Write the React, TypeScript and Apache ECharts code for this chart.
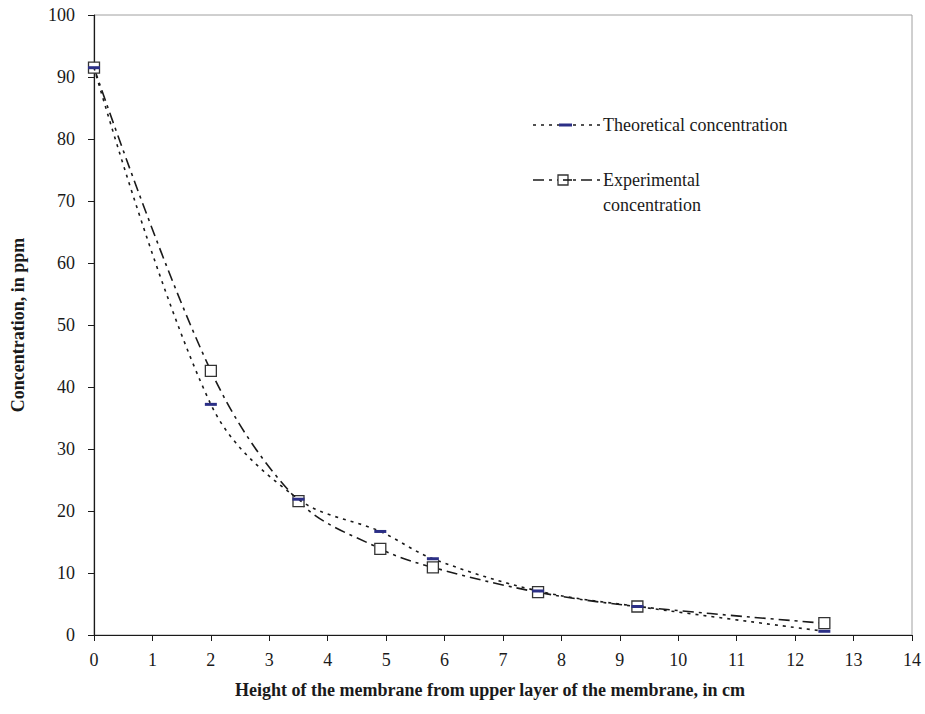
import React, { useEffect, useRef } from "react";
import * as echarts from "echarts";

const heights = [0, 2, 3.5, 4.9, 5.8, 7.6, 9.3, 12.5];
const theoretical = [91.5, 37.2, 21.9, 16.7, 12.3, 7.1, 4.6, 0.6];
const experimental = [91.5, 42.6, 21.6, 13.9, 10.9, 6.9, 4.6, 1.9];
const xTicks = [0, 1, 2, 3, 4, 5, 6, 7, 8, 9, 10, 11, 12, 13, 14];
const yTicks = [0, 10, 20, 30, 40, 50, 60, 70, 80, 90, 100];

const FONT = "Liberation Serif";
const NAVY = "#2b2f86";
const INK = "#1a1a1a";

export default function App() {
  const ref = useRef<HTMLDivElement>(null);
  useEffect(() => {
    document.body.style.margin = "0";
    const chart = echarts.init(ref.current!, null, { renderer: "svg" });
    const theoData = heights.map((h, i) => [h, theoretical[i]]);
    const expData = heights.map((h, i) => [h, experimental[i]]);
    const txt = (text: string, x: number, y: number, extra: any = {}) => ({
      type: "text",
      x,
      y,
      style: {
        text,
        fontFamily: FONT,
        fontSize: 18,
        fill: INK,
        align: "left",
        verticalAlign: "middle",
        ...extra,
      },
    });
    chart.setOption({
      animation: false,
      backgroundColor: "#fff",
      grid: {
        left: 94,
        top: 15,
        right: 13,
        bottom: 79,
        show: true,
        borderColor: "#a0a0a0",
        borderWidth: 1,
        backgroundColor: "transparent",
      },
      xAxis: {
        type: "value",
        min: xTicks[0],
        max: xTicks[xTicks.length - 1],
        interval: 1,
        axisLine: { show: true, onZero: false, lineStyle: { color: INK, width: 1.2 } },
        axisTick: { show: true, inside: false, length: 6, lineStyle: { color: INK } },
        axisLabel: { color: INK, fontFamily: FONT, fontSize: 18, margin: 16 },
        splitLine: { show: false },
      },
      yAxis: {
        type: "value",
        min: yTicks[0],
        max: yTicks[yTicks.length - 1],
        interval: 10,
        axisLine: { show: true, onZero: false, lineStyle: { color: INK, width: 1.2 } },
        axisTick: { show: true, inside: false, length: 6, lineStyle: { color: INK } },
        axisLabel: { color: INK, fontFamily: FONT, fontSize: 18, margin: 19 },
        splitLine: { show: false },
      },
      series: [
        {
          name: "Experimental concentration",
          type: "line",
          data: expData,
          smooth: 0.35,
          symbol: "rect",
          symbolSize: [11, 11],
          itemStyle: { color: "#fff", borderColor: "#333", borderWidth: 1.3 },
          lineStyle: { color: INK, width: 1.6, type: [11, 5, 3, 5] },
          z: 2,
        },
        {
          name: "Theoretical concentration",
          type: "line",
          data: theoData,
          smooth: 0.35,
          symbol: "rect",
          symbolSize: [12, 3],
          itemStyle: { color: NAVY, borderWidth: 0 },
          lineStyle: { color: INK, width: 1.6, type: [3, 5] },
          z: 3,
        },
      ],
      graphic: [
        {
          type: "text",
          x: 18,
          y: 325,
          rotation: Math.PI / 2,
          style: {
            text: "Concentration, in ppm",
            fontFamily: FONT,
            fontSize: 18,
            fontWeight: "bold",
            fill: INK,
            align: "center",
            verticalAlign: "middle",
          },
        },
        txt("Height of the membrane from upper layer of the membrane, in cm", 490, 690, {
          fontWeight: "bold",
          align: "center",
        }),
        {
          type: "line",
          shape: { x1: 533, y1: 125, x2: 600, y2: 125 },
          style: { stroke: INK, lineWidth: 1.6, lineDash: [3, 5] },
        },
        {
          type: "rect",
          shape: { x: 559, y: 123.5, width: 13, height: 3 },
          style: { fill: NAVY },
        },
        txt("Theoretical concentration", 603, 125),
        {
          type: "line",
          shape: { x1: 533, y1: 180, x2: 600, y2: 180 },
          style: { stroke: INK, lineWidth: 1.6, lineDash: [11, 5, 3, 5] },
        },
        {
          type: "rect",
          shape: { x: 558, y: 175, width: 10, height: 10 },
          style: { fill: "#fff", stroke: "#333", lineWidth: 1.3 },
        },
        {
          type: "line",
          shape: { x1: 563, y1: 180, x2: 572, y2: 180 },
          style: { stroke: INK, lineWidth: 1.6 },
        },
        txt("Experimental", 603, 180),
        txt("concentration", 603, 205),
      ],
    });
    return () => chart.dispose();
  }, []);
  return (
    <div
      ref={ref}
      style={{ position: "absolute", left: 0, top: 0, width: 925, height: 714, background: "#fff" }}
    />
  );
}
